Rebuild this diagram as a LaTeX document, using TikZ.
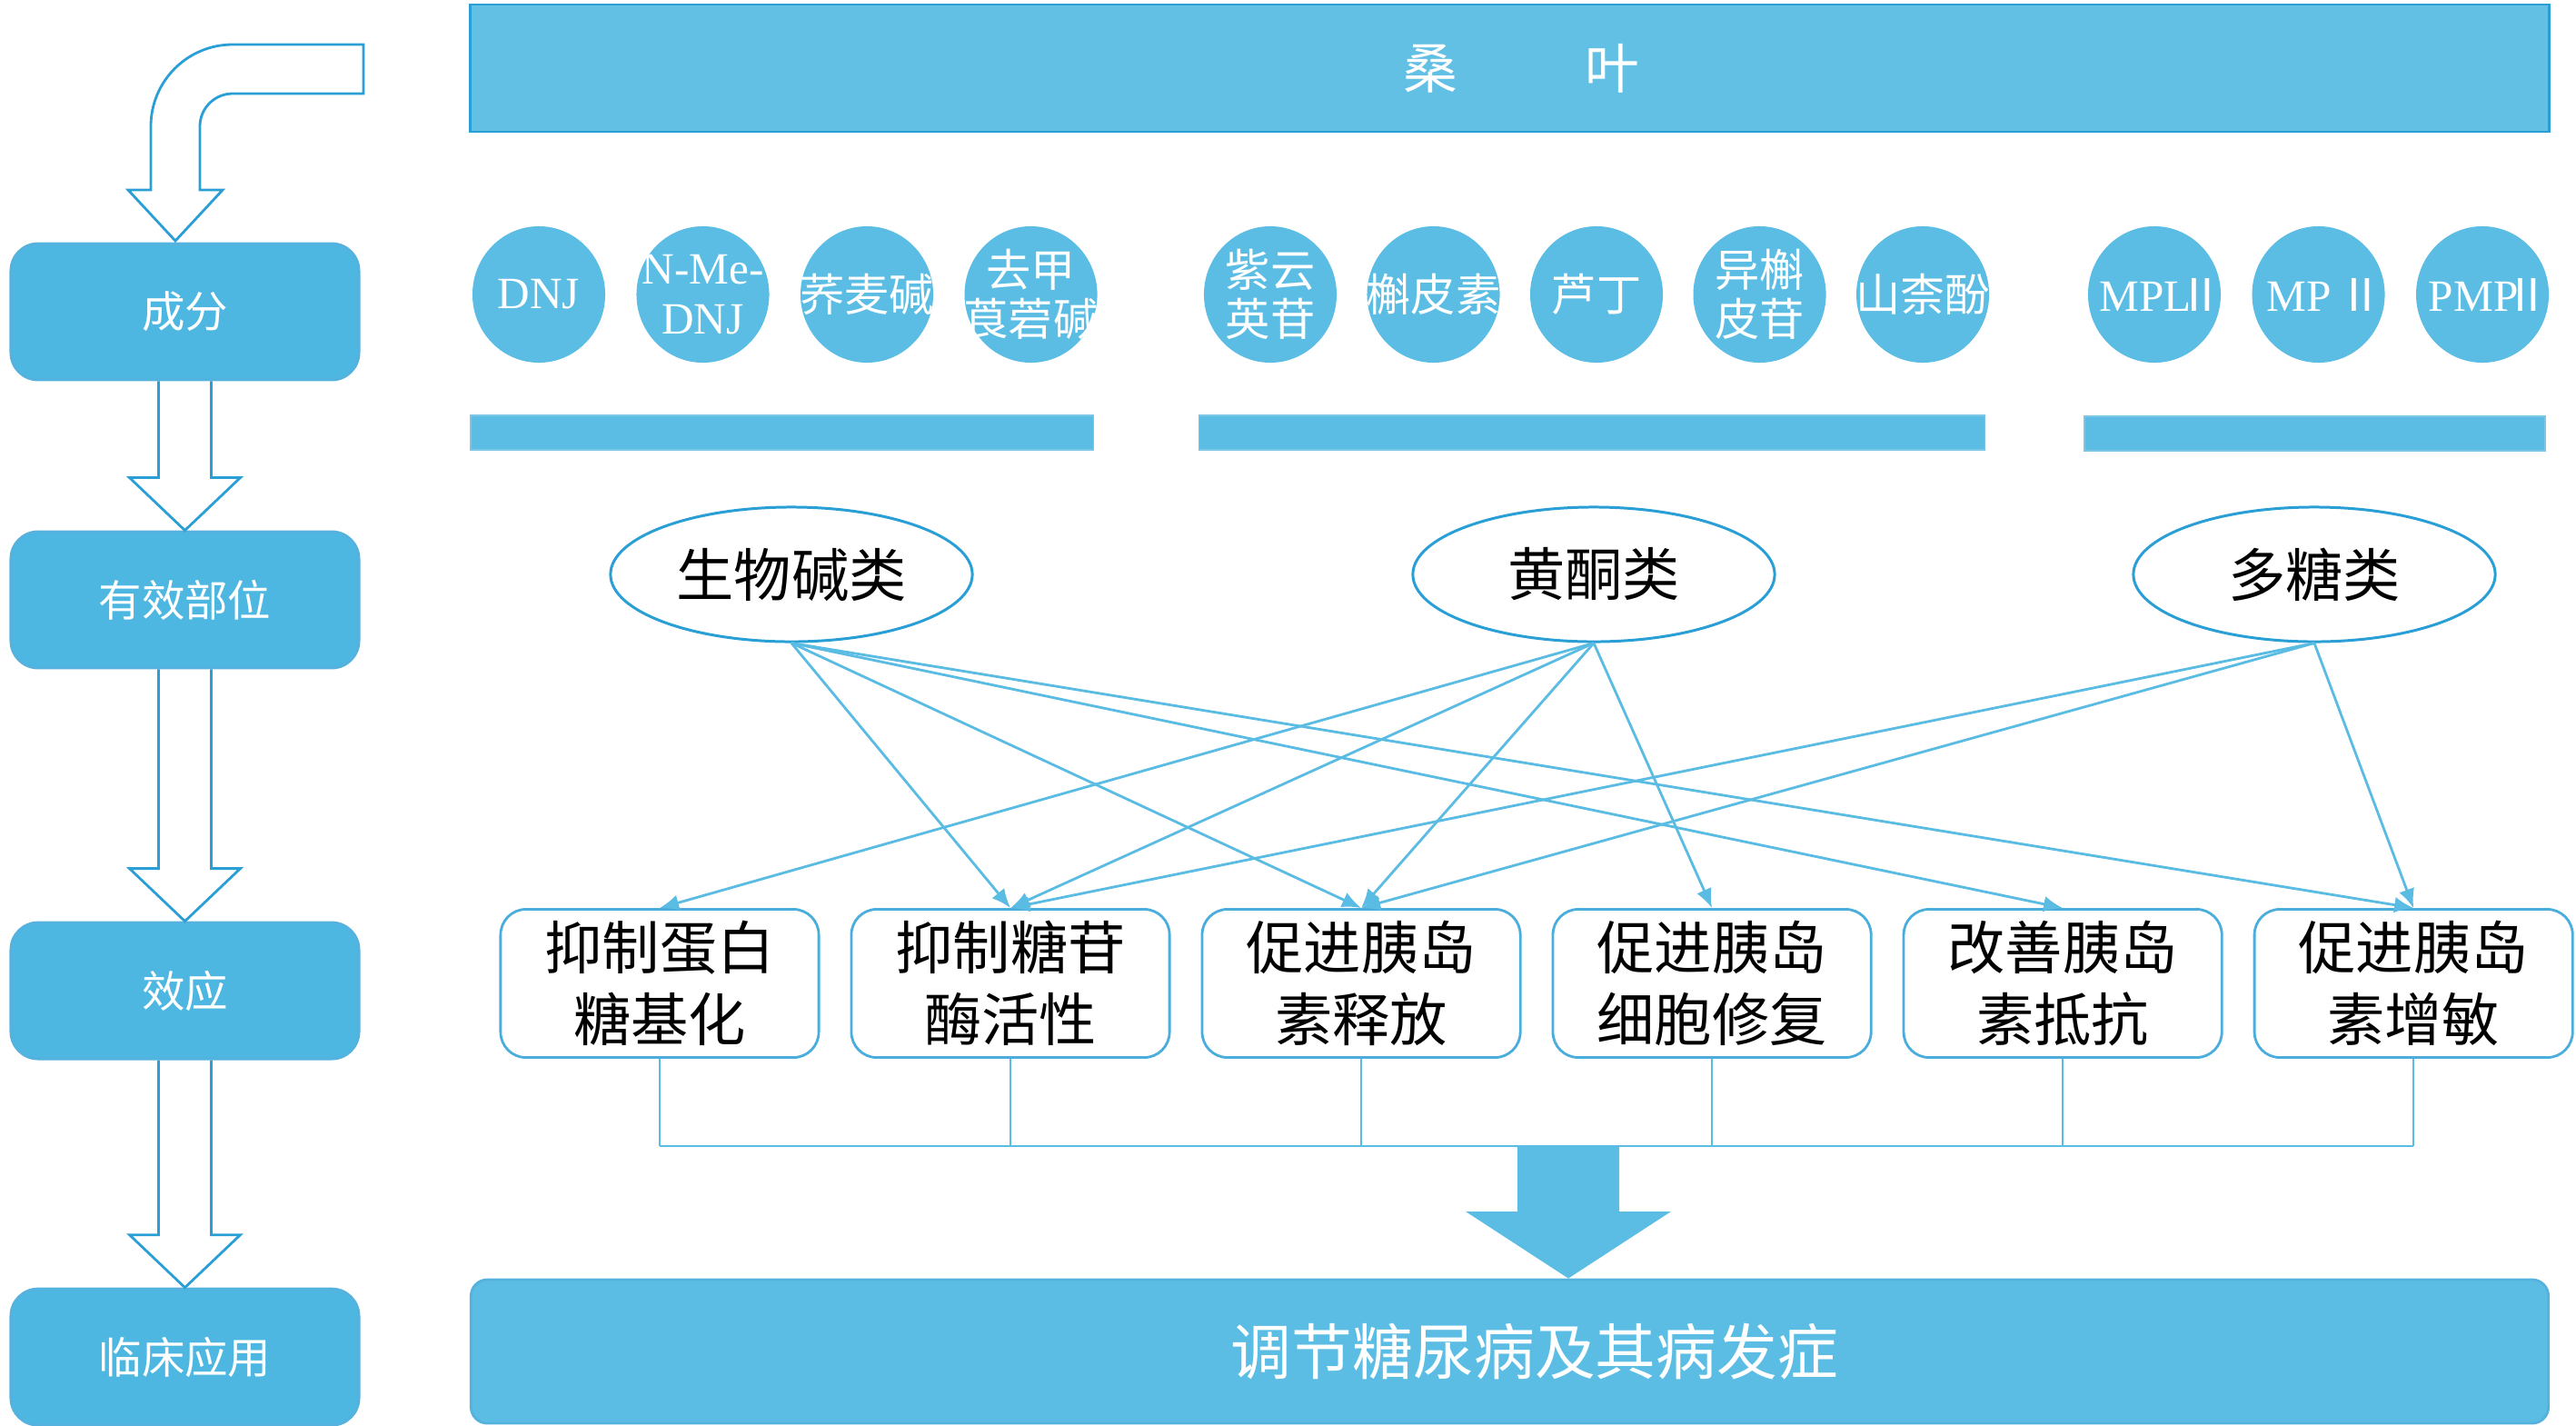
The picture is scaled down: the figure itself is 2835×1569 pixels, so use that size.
\documentclass[tikz,border=0pt]{standalone}
\usepackage{fontspec}
\setmainfont{Liberation Serif}
\newfontfamily\cjk{Noto Sans CJK SC}
\usetikzlibrary{positioning,arrows.meta,shapes.geometric,calc}
\definecolor{skyfill}{HTML}{5BBDE4}
\definecolor{sidefill}{HTML}{4DB7E1}
\definecolor{skyedge}{HTML}{2A9FD6}
\definecolor{skyline}{HTML}{5ABBE3}
\tikzset{
  sidebox/.style={draw=skyedge!80,line width=0.8pt,fill=sidefill,rounded corners=0.3cm,minimum width=3.83cm,minimum height=1.5cm,text=white,font=\cjk\fontsize{13.5}{16}\selectfont},
  leafbar/.style={draw=skyedge,line width=0.8pt,fill=skyfill!95!white,minimum width=22.87cm,minimum height=1.4cm,text=white,font=\cjk\fontsize{17}{20}\selectfont},
  comp/.style={ellipse,fill=skyfill,minimum width=1.46cm,minimum height=1.5cm,inner sep=0pt},
  ctext/.style={text=white,align=center,inner sep=0pt},
  compcjk/.style={comp,label={[ctext,font=\cjk\fontsize{14}{15.5}\selectfont]center:#1}},
  complat/.style={comp,label={[ctext,font=\fontsize{14}{15.5}\selectfont]center:#1}},
  groupbar/.style={draw=skyedge!60,fill=skyfill,minimum height=0.38cm,inner sep=0pt},
  classell/.style={ellipse,draw=skyedge,line width=0.85pt,fill=white,minimum width=3.98cm,minimum height=1.48cm,inner sep=0pt,font=\cjk\fontsize{18}{20}\selectfont},
  effbox/.style={draw=skyedge!85,line width=0.8pt,rounded corners=0.28cm,minimum width=3.5cm,minimum height=1.63cm,align=center,font=\cjk\fontsize{18}{22.5}\selectfont},
  outbar/.style={draw=skyedge!80,line width=0.8pt,fill=skyfill,rounded corners=0.18cm,minimum width=22.85cm,minimum height=1.58cm,text=white,font=\cjk\fontsize{19}{21}\selectfont},
  arr/.style={-{Latex[length=6pt,width=5pt]},draw=skyline,line width=0.8pt},
  link/.style={draw=skyline,line width=0.6pt},
  hollow/.style={draw=skyedge,line width=0.8pt}
}

\begin{document}
\begin{tikzpicture}[x=0.01cm,y=-0.01cm]
\useasboundingbox (0,0) rectangle (2835,1569);

% left column
\node[sidebox] (ingr) at (203.5,343) {成分};
\node[sidebox,below=1.64cm of ingr] (part) {有效部位};
\node[sidebox,below=2.77cm of part] (effect) {效应};
\node[sidebox,below=2.5cm of effect] (clinic) {临床应用};

\draw[hollow] (400,49) -- (256,49) arc[start angle=270,end angle=180,radius=90]
  -- (166,209) -- (141,209) -- (193,265) -- (245,209) -- (220,209)
  -- (220,139) arc[start angle=180,end angle=270,radius=36] -- (400,103) -- cycle;

\foreach \a/\b in {ingr/part,part/effect,effect/clinic}
  \draw[hollow] ($(\a.south)+(-29,0)$) -- ($(\b.north)+(-29,-58)$) -- ($(\b.north)+(-61,-58)$)
    -- (\b.north) -- ($(\b.north)+(61,-58)$) -- ($(\b.north)+(29,-58)$) -- ($(\a.south)+(29,0)$);

% mulberry leaf
\node[leafbar] (leaf) at (1661.5,75) {\hspace{0.26cm}桑\hspace{1.4cm}叶};

% compounds
\node[complat=DNJ] (c1) at (593,324) {};
\node[complat={N-Me-\\DNJ},right=0.33cm of c1] (c2) {};
\node[compcjk=荞麦碱,right=0.33cm of c2] (c3) {};
\node[compcjk={去甲\\莨菪碱},right=0.33cm of c3] (c4) {};

\node[compcjk={紫云\\英苷}] (c5) at (1398,324) {};
\node[compcjk=槲皮素,right=0.32cm of c5] (c6) {};
\node[compcjk=芦丁,right=0.32cm of c6] (c7) {};
\node[compcjk={异槲\\皮苷},right=0.32cm of c7] (c8) {};
\node[compcjk=山柰酚,right=0.32cm of c8] (c9) {};

\node[complat={MPL{\cjk\kern-.3em Ⅱ\kern-.3em}}] (c10) at (2371,324) {};
\node[complat={MP\,{\cjk Ⅱ\kern-.3em}},right=0.33cm of c10] (c11) {};
\node[complat={PMP{\cjk\kern-.3em Ⅱ\kern-.3em}},right=0.33cm of c11] (c12) {};

\node[groupbar,minimum width=6.85cm] (g1) at (860.5,476) {};
\node[groupbar,minimum width=8.64cm] (g2) at (1752,476) {};
\node[groupbar,minimum width=5.07cm] (g3) at (2547.5,477) {};

% active fractions
\node[classell] (alk) at (871,632) {生物碱类};
\node[classell] (fla) at (1754,632) {黄酮类};
\node[classell] (poly) at (2547,632) {多糖类};

% effects
\node[effbox] (e1) at (726,1082) {抑制蛋白\\糖基化};
\node[effbox,right=0.33cm of e1] (e2) {抑制糖苷\\酶活性};
\node[effbox,right=0.33cm of e2] (e3) {促进胰岛\\素释放};
\node[effbox,right=0.33cm of e3] (e4) {促进胰岛\\细胞修复};
\node[effbox,right=0.33cm of e4] (e5) {改善胰岛\\素抵抗};
\node[effbox,right=0.33cm of e5] (e6) {促进胰岛\\素增敏};

\foreach \t in {e2,e3,e5,e6} \draw[arr] (alk.south) -- (\t.north);
\foreach \t in {e1,e2,e3,e4} \draw[arr] (fla.south) -- (\t.north);
\foreach \t in {e2,e3,e6} \draw[arr] (poly.south) -- (\t.north);

% clinical use
\node[outbar] (result) at (1661.5,1487) {\hspace{0.55cm}调节糖尿病及其病发症};

\coordinate (join) at (1726,1261);
\foreach \i in {1,...,6} \draw[link] (e\i.south) -- (e\i.south |- join);
\draw[link] (e1.south |- join) -- (e6.south |- join);

\fill[skyfill] ($(join)+(-56,0)$) -- ($(join)+(-56,72)$) -- ($(join)+(-113,72)$)
  -- (join |- result.north) -- ($(join)+(113,72)$) -- ($(join)+(56,72)$) -- ($(join)+(56,0)$) -- cycle;
\end{tikzpicture}
\end{document}
